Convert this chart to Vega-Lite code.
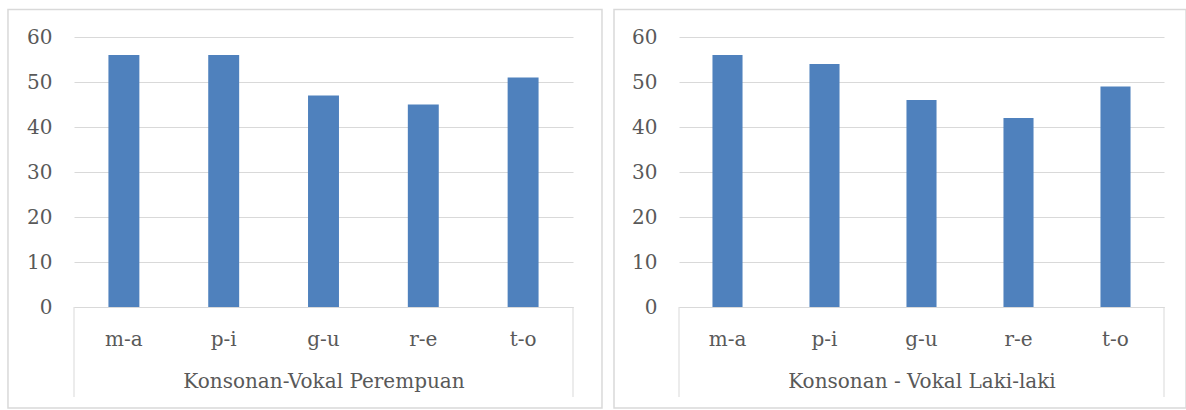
{
  "$schema": "https://vega.github.io/schema/vega-lite/v6.json",
  "padding": {"left": 7, "top": 8, "right": 0, "bottom": 0},
  "background": "white",
  "datasets": {
    "perempuan": [
      {"pasangan": "m-a", "nilai": 56},
      {"pasangan": "p-i", "nilai": 56},
      {"pasangan": "g-u", "nilai": 47},
      {"pasangan": "r-e", "nilai": 45},
      {"pasangan": "t-o", "nilai": 51}
    ],
    "laki": [
      {"pasangan": "m-a", "nilai": 56},
      {"pasangan": "p-i", "nilai": 54},
      {"pasangan": "g-u", "nilai": 46},
      {"pasangan": "r-e", "nilai": 42},
      {"pasangan": "t-o", "nilai": 49}
    ]
  },
  "spacing": 10,
  "hconcat": [
    {
      "width": 499,
      "height": 270,
      "resolve": {"scale": {"x": "independent"}},
      "layer": [
        {
          "data": {"values": [{}]},
          "mark": {"type": "rect", "fill": null, "stroke": "#d9d9d9", "strokeWidth": 1.5},
          "encoding": {
            "x": {"datum": -0.1323, "type": "quantitative", "scale": {"domain": [0, 1], "nice": false, "zero": false}, "axis": null},
            "x2": {"datum": 1.0581},
            "y": {"datum": 66.11, "type": "quantitative", "scale": {"domain": [0, 60], "nice": false}},
            "y2": {"datum": -22.44}
          }
        },
        {
          "data": {"values": [{}]},
          "mark": {"type": "rule", "color": "#d9d9d9", "strokeWidth": 1},
          "encoding": {
            "x": {"datum": 0, "type": "quantitative", "scale": {"domain": [0, 1], "nice": false, "zero": false}, "axis": null},
            "y": {"datum": 0, "type": "quantitative"},
            "y2": {"datum": -20}
          }
        },
        {
          "data": {"values": [{}]},
          "mark": {"type": "rule", "color": "#d9d9d9", "strokeWidth": 1},
          "encoding": {
            "x": {"datum": 1, "type": "quantitative", "scale": {"domain": [0, 1], "nice": false, "zero": false}, "axis": null},
            "y": {"datum": 0, "type": "quantitative"},
            "y2": {"datum": -20}
          }
        },
        {
          "data": {"name": "perempuan"},
          "mark": {"type": "bar", "color": "#4f81bd"},
          "encoding": {
            "x": {
              "field": "pasangan", "type": "nominal", "sort": null,
              "scale": {"paddingInner": 0.69, "paddingOuter": 0.345},
              "axis": {"title": "Konsonan-Vokal Perempuan", "labelAngle": 0, "ticks": false, "tickSize": 0, "labelPadding": 22, "titlePadding": 22, "domainColor": "#d9d9d9", "domainWidth": 1}
            },
            "y": {
              "field": "nilai", "type": "quantitative",
              "scale": {"domain": [0, 60], "nice": false},
              "axis": {"title": null, "values": [0, 10, 20, 30, 40, 50, 60], "grid": true, "gridColor": "#d9d9d9", "gridWidth": 1, "domain": false, "ticks": false, "tickSize": 0, "labelPadding": 22}
            }
          }
        }
      ]
    },
    {
      "width": 485,
      "height": 270,
      "resolve": {"scale": {"x": "independent"}},
      "layer": [
        {
          "data": {"values": [{}]},
          "mark": {"type": "rect", "fill": null, "stroke": "#d9d9d9", "strokeWidth": 1.5},
          "encoding": {
            "x": {"datum": -0.134, "type": "quantitative", "scale": {"domain": [0, 1], "nice": false, "zero": false}, "axis": null},
            "x2": {"datum": 1.0454},
            "y": {"datum": 66.11, "type": "quantitative", "scale": {"domain": [0, 60], "nice": false}},
            "y2": {"datum": -22.44}
          }
        },
        {
          "data": {"values": [{}]},
          "mark": {"type": "rule", "color": "#d9d9d9", "strokeWidth": 1},
          "encoding": {
            "x": {"datum": 0, "type": "quantitative", "scale": {"domain": [0, 1], "nice": false, "zero": false}, "axis": null},
            "y": {"datum": 0, "type": "quantitative"},
            "y2": {"datum": -20}
          }
        },
        {
          "data": {"values": [{}]},
          "mark": {"type": "rule", "color": "#d9d9d9", "strokeWidth": 1},
          "encoding": {
            "x": {"datum": 1, "type": "quantitative", "scale": {"domain": [0, 1], "nice": false, "zero": false}, "axis": null},
            "y": {"datum": 0, "type": "quantitative"},
            "y2": {"datum": -20}
          }
        },
        {
          "data": {"name": "laki"},
          "mark": {"type": "bar", "color": "#4f81bd"},
          "encoding": {
            "x": {
              "field": "pasangan", "type": "nominal", "sort": null,
              "scale": {"paddingInner": 0.69, "paddingOuter": 0.345},
              "axis": {"title": "Konsonan - Vokal Laki-laki", "labelAngle": 0, "ticks": false, "tickSize": 0, "labelPadding": 22, "titlePadding": 22, "domainColor": "#d9d9d9", "domainWidth": 1}
            },
            "y": {
              "field": "nilai", "type": "quantitative",
              "scale": {"domain": [0, 60], "nice": false},
              "axis": {"title": null, "values": [0, 10, 20, 30, 40, 50, 60], "grid": true, "gridColor": "#d9d9d9", "gridWidth": 1, "domain": false, "ticks": false, "tickSize": 0, "labelPadding": 22}
            }
          }
        }
      ]
    }
  ],
  "config": {
    "view": {"stroke": null},
    "font": "DejaVu Serif",
    "axis": {
      "labelFont": "DejaVu Serif",
      "labelFontSize": 20,
      "labelColor": "#595959",
      "titleFont": "DejaVu Serif",
      "titleFontSize": 20,
      "titleFontWeight": "normal",
      "titleColor": "#595959"
    }
  }
}
